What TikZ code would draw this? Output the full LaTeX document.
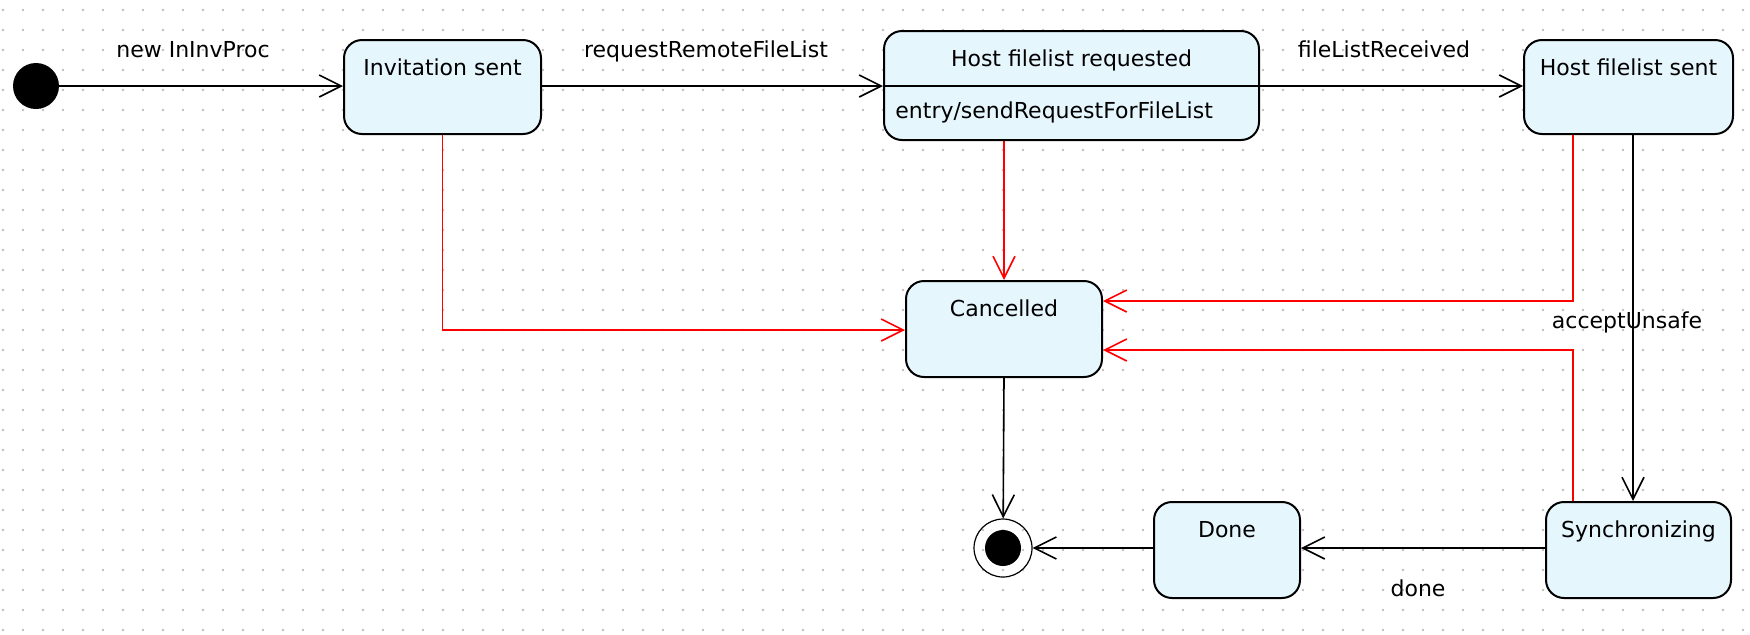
\documentclass[tikz,border=0pt]{standalone}
\usepackage{fontspec}
\setmainfont{DejaVu Sans}
\usetikzlibrary{arrows.meta}

\definecolor{statefill}{RGB}{230,246,253}
\definecolor{griddot}{RGB}{190,190,190}

\tikzset{
    state/.style={draw, line width=1pt, rounded corners=9pt, fill=statefill, inner sep=0pt,
        anchor=north west, text height=17.5pt, text depth=29.5pt, font=\fontsize{11}{13}\selectfont},
    initial/.style={circle, fill, minimum size=23pt, inner sep=0pt},
    final/.style={circle, draw, line width=0.6pt, minimum size=29pt, inner sep=0pt},
    trans/.style={line width=0.8pt, -{Straight Barb[length=11pt,width=11pt,line width=0.8pt]}},
    abort/.style={trans, red, line width=0.95pt},
    lbl/.style={font=\fontsize{11}{13}\selectfont, anchor=base, inner sep=0pt}
}

\begin{document}
\begin{tikzpicture}[x=0.5pt, y=-0.5pt]
    \useasboundingbox (0,0) rectangle (1750,634);

    % draw grid dots
    \foreach \i in {0,...,87}
    \foreach \j in {0,...,31}
    \fill[griddot] (3+20*\i,10+20*\j) circle[radius=0.7pt];

    % draw states
    \node[initial] (init) at (36,86) {};
    \node[state, minimum width=98.5pt] (inv) at (343,39) {Invitation sent};
    \node[state, minimum width=187.5pt, text depth=37pt] (hreq) at (883,30) {Host filelist requested};
    \node[state, minimum width=104.5pt] (hsent) at (1523,39) {Host filelist sent};
    \node[state, minimum width=98pt, text depth=30.5pt] (cancel) at (905,280) {Cancelled};
    \node[state, minimum width=73pt, text depth=30.5pt] (done) at (1153,501) {Done};
    \node[state, minimum width=92.5pt, text depth=30.5pt] (sync) at (1545,501) {Synchronizing};
    \node[final] (end) at (1003,548) {};
    \fill (end) circle[radius=9pt];

    % entry action
    \draw[line width=1pt] (hreq.west |- 0,86) -- (hreq.east |- 0,86);
    \node[lbl, anchor=base west] (entry) at (895,118) {entry/sendRequestForFileList};

    % draw transitions
    \draw[trans] (init) -- (inv.west |- init);
    \draw[trans] (inv.east |- 0,86) -- (hreq.west |- 0,86);
    \draw[trans] (hreq.east |- 0,86) -- (hsent.west |- 0,86);
    \draw[trans] (hsent.south -| 1633,0) -- (sync.north -| 1633,0);
    \draw[trans] (sync.west |- 0,548) -- (done.east |- 0,548);
    \draw[trans] (done.west |- 0,548) -- (end);
    \draw[trans] (cancel.south) -- (end);

    % draw transitions to cancelled
    \draw[abort] (inv.south) |- (cancel.west |- 0,330);
    \draw[abort] (cancel.north |- hreq.south) -- (cancel.north);
    \draw[abort] (hsent.south -| 1573,0) |- (cancel.east |- 0,301);
    \draw[abort] (sync.north -| 1573,0) |- (cancel.east |- 0,350);

    % draw labels
    \node[lbl] (lnew) at (193,57) {new InInvProc};
    \node[lbl] (lreq) at (706,57) {requestRemoteFileList};
    \node[lbl] (lrec) at (1384,57) {fileListReceived};
    \node[lbl] (lacc) at (1627,328) {acceptUnsafe};
    \node[lbl] (ldone) at (1418,596) {done};
\end{tikzpicture}
\end{document}
